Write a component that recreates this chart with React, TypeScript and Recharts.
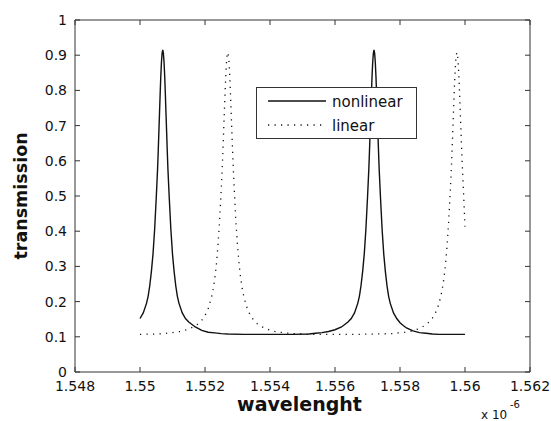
import { LineChart, Line, XAxis, YAxis } from 'recharts';

// wavelength in units of 1e-6 m, transmission
const nonlinearWavelength = [
  1.55, 1.5501, 1.5502, 1.55025, 1.5503, 1.55035, 1.5504, 1.55045, 1.5505, 1.55052,
  1.55054, 1.55056, 1.55058, 1.5506, 1.55062, 1.55064, 1.55066, 1.55068, 1.5507, 1.55072,
  1.55074, 1.55076, 1.55078, 1.5508, 1.55082, 1.55084, 1.55086, 1.55088, 1.5509, 1.55095,
  1.551, 1.55105, 1.5511, 1.55115, 1.5512, 1.5513, 1.5514, 1.5515, 1.5516, 1.5517,
  1.5519, 1.5521, 1.5523, 1.5525, 1.5527, 1.5532, 1.554, 1.5547, 1.5552, 1.5554,
  1.5556, 1.5558, 1.556, 1.5562, 1.5563, 1.5564, 1.5565, 1.5566, 1.5567, 1.55675,
  1.5568, 1.55685, 1.5569, 1.55695, 1.557, 1.55702, 1.55704, 1.55706, 1.55708, 1.5571,
  1.55712, 1.55714, 1.55716, 1.55718, 1.5572, 1.55722, 1.55724, 1.55726, 1.55728, 1.5573,
  1.55732, 1.55734, 1.55736, 1.55738, 1.5574, 1.55745, 1.5575, 1.55755, 1.5576, 1.55765,
  1.5577, 1.5578, 1.5579, 1.558, 1.5581, 1.5582, 1.5584, 1.5586, 1.5588, 1.559,
  1.5592, 1.5596, 1.56,
];
const nonlinearTransmission = [
  0.152, 0.168, 0.195, 0.215, 0.245, 0.285, 0.335, 0.405, 0.495, 0.535,
  0.575, 0.625, 0.68, 0.735, 0.79, 0.84, 0.88, 0.905, 0.915, 0.905,
  0.88, 0.84, 0.79, 0.735, 0.68, 0.625, 0.575, 0.535, 0.495, 0.405,
  0.335, 0.285, 0.245, 0.215, 0.195, 0.168, 0.152, 0.142, 0.135, 0.128,
  0.118, 0.113, 0.111, 0.109, 0.108, 0.107, 0.107, 0.107, 0.108, 0.11,
  0.112, 0.115, 0.12, 0.128, 0.135, 0.142, 0.152, 0.168, 0.195, 0.215,
  0.245, 0.285, 0.335, 0.405, 0.495, 0.535, 0.575, 0.625, 0.68, 0.735,
  0.79, 0.84, 0.88, 0.905, 0.915, 0.905, 0.88, 0.84, 0.79, 0.735,
  0.68, 0.625, 0.575, 0.535, 0.495, 0.405, 0.335, 0.285, 0.245, 0.215,
  0.195, 0.168, 0.152, 0.14, 0.132, 0.125, 0.117, 0.112, 0.11, 0.108,
  0.107, 0.107, 0.107,
];

const linearWavelength = [
  1.55, 1.5505, 1.5507, 1.5509, 1.5511, 1.5513, 1.5515, 1.5517, 1.5518, 1.5519,
  1.552, 1.5521, 1.5522, 1.55225, 1.5523, 1.55235, 1.5524, 1.55245, 1.5525, 1.55252,
  1.55254, 1.55256, 1.55258, 1.5526, 1.55262, 1.55264, 1.55266, 1.55268, 1.5527, 1.55272,
  1.55274, 1.55276, 1.55278, 1.5528, 1.55282, 1.55284, 1.55286, 1.55288, 1.5529, 1.55295,
  1.553, 1.55305, 1.5531, 1.55315, 1.5532, 1.5533, 1.5534, 1.5535, 1.5536, 1.5537,
  1.5539, 1.5541, 1.5543, 1.5545, 1.5547, 1.5552, 1.5557, 1.5562, 1.55675, 1.55725,
  1.55775, 1.55795, 1.55815, 1.55835, 1.55855, 1.55875, 1.55885, 1.55895, 1.55905, 1.55915,
  1.55925, 1.5593, 1.55935, 1.5594, 1.55945, 1.5595, 1.55955, 1.55957, 1.55959, 1.55961,
  1.55963, 1.55965, 1.55967, 1.55969, 1.55971, 1.55973, 1.55975, 1.55977, 1.55979, 1.55981,
  1.55983, 1.55985, 1.55987, 1.55989, 1.55991, 1.55993, 1.55995, 1.56,
];
const linearTransmission = [
  0.107, 0.108, 0.109, 0.111, 0.113, 0.116, 0.122, 0.131, 0.138, 0.147,
  0.16, 0.18, 0.212, 0.235, 0.265, 0.305, 0.36, 0.43, 0.52, 0.56,
  0.603, 0.65, 0.7, 0.75, 0.8, 0.843, 0.878, 0.9, 0.908, 0.9,
  0.878, 0.843, 0.8, 0.75, 0.7, 0.65, 0.603, 0.56, 0.52, 0.43,
  0.36, 0.305, 0.265, 0.235, 0.212, 0.18, 0.16, 0.147, 0.138, 0.131,
  0.122, 0.116, 0.113, 0.111, 0.109, 0.107, 0.107, 0.107, 0.107, 0.108,
  0.109, 0.111, 0.113, 0.116, 0.122, 0.131, 0.138, 0.147, 0.16, 0.18,
  0.212, 0.235, 0.265, 0.305, 0.36, 0.43, 0.52, 0.56, 0.603, 0.65,
  0.7, 0.75, 0.8, 0.843, 0.878, 0.9, 0.908, 0.9, 0.878, 0.843,
  0.8, 0.75, 0.7, 0.65, 0.603, 0.56, 0.52, 0.413,
];

const xTicks = [1.548, 1.55, 1.552, 1.554, 1.556, 1.558, 1.56, 1.562];
const yTicks = [0, 0.1, 0.2, 0.3, 0.4, 0.5, 0.6, 0.7, 0.8, 0.9, 1];
const xDomain = [1.548, 1.562];
const yDomain = [0, 1];

const nonlinearData = nonlinearWavelength.map((w, i) => ({ w, t: nonlinearTransmission[i] }));
const linearData = linearWavelength.map((w, i) => ({ w, t: linearTransmission[i] }));

const W = 551;
const H = 421;
const MARGIN = { top: 20, right: 21, bottom: 0, left: 0 };
const Y_AXIS_W = 75;
const X_AXIS_H = 49;
const PLOT_TOP = MARGIN.top;
const PLOT_BOTTOM = H - X_AXIS_H;
const PLOT_LEFT = Y_AXIS_W;
const PLOT_RIGHT = W - MARGIN.right;
const TICK = 5;

const font = 'DejaVu Sans, Arial, sans-serif';
const axisColor = '#333';
const ink = '#111';

const fmtX = (v: number) => String(parseFloat(v.toFixed(3)));
const fmtY = (v: number) => String(parseFloat(v.toFixed(1)));
const blank = () => '';

// matlab style: inward ticks on both opposite sides, label outside
const XTick = ({ x, y, payload }: any) => (
  <g>
    <line x1={x} x2={x} y1={PLOT_BOTTOM} y2={PLOT_BOTTOM - TICK} stroke={axisColor} />
    <line x1={x} x2={x} y1={PLOT_TOP} y2={PLOT_TOP + TICK} stroke={axisColor} />
    <text x={x} y={y} dy="0.71em" textAnchor="middle" fontFamily={font} fontSize={14} fill={ink}>
      {fmtX(payload.value)}
    </text>
  </g>
);

const YTick = ({ x, y, payload }: any) => (
  <g>
    <line x1={PLOT_LEFT} x2={PLOT_LEFT + TICK} y1={y} y2={y} stroke={axisColor} />
    <line x1={PLOT_RIGHT - TICK} x2={PLOT_RIGHT} y1={y} y2={y} stroke={axisColor} />
    <text x={x} y={y} dy="0.355em" textAnchor="end" fontFamily={font} fontSize={14} fill={ink}>
      {fmtY(payload.value)}
    </text>
  </g>
);

export default function App() {
  return (
    <div style={{ position: 'absolute', left: 0, top: 0, width: W, height: H, background: '#fff' }}>
      <LineChart width={W} height={H} margin={MARGIN}>
        <XAxis
          dataKey="w"
          type="number"
          domain={xDomain}
          allowDataOverflow
          ticks={xTicks}
          interval={0}
          height={X_AXIS_H}
          stroke={axisColor}
          tick={<XTick />}
          tickLine={false}
          tickSize={0}
          tickMargin={9}
          label={({ viewBox }: any) => (
            <text
              x={viewBox.x + viewBox.width / 2 - 3}
              y={411}
              textAnchor="middle"
              fontFamily={font}
              fontWeight="bold"
              fontSize={19}
              fill={ink}
            >
              wavelenght
            </text>
          )}
        />
        <YAxis
          type="number"
          domain={yDomain}
          allowDataOverflow
          ticks={yTicks}
          interval={0}
          width={Y_AXIS_W}
          stroke={axisColor}
          tick={<YTick />}
          tickLine={false}
          tickSize={0}
          tickMargin={8}
          label={({ viewBox }: any) => (
            <text
              x={21}
              y={viewBox.y + viewBox.height / 2}
              transform={`rotate(-90, 21, ${viewBox.y + viewBox.height / 2})`}
              textAnchor="middle"
              dominantBaseline="central"
              fontFamily={font}
              fontWeight="bold"
              fontSize={17.5}
              fill={ink}
            >
              transmission
            </text>
          )}
        />

        {/* top and right edges of the box */}
        <XAxis
          xAxisId="top"
          orientation="top"
          mirror
          type="number"
          domain={xDomain}
          allowDataOverflow
          ticks={xTicks}
          tickFormatter={blank}
          height={5}
          stroke={axisColor}
          tickLine={false}
        />
        <YAxis
          yAxisId="right"
          orientation="right"
          mirror
          type="number"
          domain={yDomain}
          allowDataOverflow
          ticks={yTicks}
          tickFormatter={blank}
          width={5}
          stroke={axisColor}
          tickLine={false}
        />

        <Line
          data={nonlinearData}
          dataKey="t"
          type="linear"
          stroke={ink}
          strokeWidth={1.4}
          dot={false}
          isAnimationActive={false}
        />
        <Line
          data={linearData}
          dataKey="t"
          type="linear"
          stroke={ink}
          strokeWidth={1.3}
          strokeDasharray="1.2 5.3"
          dot={false}
          isAnimationActive={false}
        />
      </LineChart>

      {/* legend box */}
      <div
        style={{
          position: 'absolute',
          left: 256,
          top: 87,
          width: 159,
          height: 50,
          border: `1px solid ${axisColor}`,
          background: '#fff',
        }}
      >
        <svg width={159} height={50} style={{ position: 'absolute', left: 0, top: 0 }}>
          <line x1={11} x2={69} y1={13} y2={13} stroke={ink} strokeWidth={1.4} />
          <line x1={11} x2={69} y1={37} y2={37} stroke={ink} strokeWidth={1.3} strokeDasharray="1.2 5.3" />
          <text x={75} y={18.5} fontFamily={font} fontSize={15} fill={ink}>nonlinear</text>
          <text x={75} y={42.5} fontFamily={font} fontSize={15} fill={ink}>linear</text>
        </svg>
      </div>

      {/* exponent note */}
      <svg width={W} height={H} style={{ position: 'absolute', left: 0, top: 0, pointerEvents: 'none' }}>
        <text x={481} y={419} fontFamily={font} fontSize={12} fill={ink}>x 10</text>
        <text x={510} y={408} fontFamily={font} fontSize={10} fill={ink}>-6</text>
      </svg>
    </div>
  );
}
